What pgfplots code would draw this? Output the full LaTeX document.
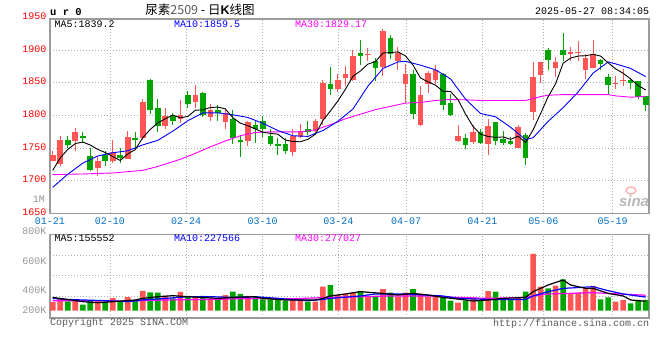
\documentclass[border=0pt]{standalone}
\usepackage{pgfplots}
\pgfplotsset{compat=1.18}
\usepackage{pgfplotstable}
\usepackage{fontspec}
\setmainfont{Liberation Mono}
\newfontfamily\cjk{Noto Sans CJK SC}
\newfontfamily\sansf{Liberation Sans}
\newcommand\tf{\fontsize{10bp}{12bp}\selectfont}
\definecolor{upred}{RGB}{255,85,85}
\definecolor{dngreen}{RGB}{0,165,0}
\definecolor{tickred}{RGB}{255,0,0}
\definecolor{dateblue}{RGB}{0,110,200}
\definecolor{bordergray}{RGB}{155,155,155}
\definecolor{gridgray}{RGB}{175,175,175}
\definecolor{labgray}{RGB}{150,150,150}
\definecolor{txtgray}{RGB}{90,90,90}
\definecolor{mablue}{RGB}{0,0,255}
\definecolor{mamag}{RGB}{255,0,255}

% rising candles: index open high low close
\pgfplotstableread{
i o h l c
0 1731 1746 1730 1740
1 1725 1769 1722 1763
3 1761 1781 1745 1774
6 1719 1738 1707 1730
8 1730 1763 1728 1744
10 1734 1776 1733 1767
12 1765 1825 1763 1821
15 1784 1811 1779 1799
17 1795 1823 1789 1800.5
19 1821 1846 1811 1832
21 1797.5 1818 1792 1809
23 1790 1809 1779 1804
26 1761 1792 1753 1790
32 1744 1779 1738 1768
33 1767 1787 1765 1777
35 1777 1795 1771 1792
36 1794 1854 1786 1850
38 1841 1864 1836 1854
39 1858 1875.5 1845 1864
40 1855 1899.5 1853 1891
42 1892 1904 1883 1893.5
44 1874 1932 1860 1930
46 1883 1905 1870 1896
47 1847.5 1879 1819 1863
49 1785 1845 1784 1831
50 1848.5 1868 1835 1865
51 1854 1878 1847.5 1870
54 1761.7 1785 1759.7 1768.4
56 1759.7 1786 1756.6 1775
58 1756.6 1795.4 1739.3 1783.2
62 1750.5 1785.2 1749.5 1782.2
64 1805.6 1881.6 1792.4 1858.7
65 1861.7 1882 1850 1881.6
67 1873 1889.3 1858.7 1882.2
69 1893.4 1905 1884 1897.5
70 1895 1913.8 1883.2 1897
71 1870.4 1893.4 1855.1 1888.3
72 1873 1916.3 1872 1893.4
75 1849 1860.2 1841.3 1850.5
76 1853.1 1871.9 1844.9 1854.6
}\uptab

% falling candles
\pgfplotstableread{
i o h l c
2 1763 1769 1750 1755
4 1769 1775 1758 1765
5 1738 1750 1715 1717
7 1739 1745 1722 1730
9 1740 1750 1728 1735
11 1766 1775 1748 1763
13 1855 1856 1803 1808
14 1812 1826 1775 1784
16 1799 1804 1786 1791
18 1832 1838 1812 1818
20 1835 1836 1797.5 1801.5
22 1809 1816 1792 1804
24 1795 1809 1757 1765
25 1763 1770 1736 1759
27 1786 1792 1758 1779
28 1791 1799 1767 1779
29 1768 1779 1753 1756
30 1757 1766 1739 1753
31 1757 1766 1741 1745
34 1780 1792 1770 1775
37 1847.5 1874 1832 1841
41 1896 1915 1877 1891
43 1884 1888 1853 1873
45 1919 1923 1886 1894
48 1863 1869 1795 1803
52 1864 1865 1809 1816
53 1819.4 1832.2 1799 1801.5
55 1765.8 1772 1748 1754.6
57 1775 1778.6 1756.6 1758.2
59 1789.8 1790.5 1755.6 1761.7
60 1763.3 1777 1755.6 1757.7
61 1760.7 1766.8 1754.6 1756.6
63 1770.9 1773.5 1724 1735.2
66 1901 1903.6 1870.4 1885.7
68 1899.5 1926.5 1883.2 1892.4
73 1885.7 1886.5 1868.9 1878.1
74 1858.7 1863.8 1833.2 1846.4
77 1853.6 1855.1 1841.3 1850
78 1852.6 1853 1824.5 1828.1
79 1829.6 1830 1806.6 1815.8
}\dntab

\pgfplotstableread{
i m
0 1716
1 1735
2 1748
3 1757
4 1759.4
5 1754.8
6 1748.2
7 1743.2
8 1737.2
9 1731.2
10 1741.2
11 1747.8
12 1766
13 1778.8
14 1788.6
15 1795
16 1800.6
17 1796.5
18 1798.5
19 1808.1
20 1808.6
21 1812.2
22 1812.9
23 1810.1
24 1796.7
25 1788.2
26 1784.4
27 1779.4
28 1774.4
29 1772.6
30 1771.4
31 1762.4
32 1760.2
33 1759.8
34 1763.6
35 1771.4
36 1792.4
37 1807
38 1822.4
39 1840.2
40 1860
41 1868.2
42 1878.7
43 1882.5
44 1895.7
45 1896.3
46 1897.3
47 1891.2
48 1877.2
49 1857.4
50 1851.6
51 1846.4
52 1837
53 1836.7
54 1824.2
55 1802.1
56 1783.1
57 1771.5
58 1767.9
59 1766.5
60 1767.2
61 1763.5
62 1768.3
63 1758.7
64 1778.1
65 1802.9
66 1828.7
67 1848.7
68 1880.1
69 1887.9
70 1891
71 1891.5
72 1893.7
73 1890.9
74 1880.6
75 1871.3
76 1864.6
77 1855.9
78 1845.9
79 1839.2
}\mafive

\pgfplotstableread{
i m
0 1690
2 1710
4 1727
6 1738
8 1743
10 1746
12 1755
14 1762
16 1776
18 1792
20 1804
22 1804
24 1801
26 1797
28 1788
30 1777
32 1769
34 1768
36 1777
38 1791
40 1810
42 1845
44 1872
46 1882
47 1883
49 1877
51 1870
53 1856
55 1825
57 1803
59 1798
61 1782
63 1763
64 1766
66 1791
68 1812
70 1836
72 1865
74 1882
75 1879
77 1872
79 1859.5
}\maten

\pgfplotstableread{
i m
0 1709.5
4 1710.5
8 1712
12 1716
14 1722
17 1733
19 1742
21 1752
23 1761
25 1769
27 1774
29 1775
31 1775
33 1775
35 1778
37 1786
39 1795
41 1802
43 1809
45 1814
47 1819
49 1820
51 1823
53 1824.5
55 1824
57 1823
59 1823
61 1823
63 1823
64 1826
65 1829
66 1831
68 1832
70 1832
72 1832
74 1832
75 1830
77 1828
79 1829.2
}\mathirty

% volume (thousand lots)
\pgfplotstableread{
i v
0 140
1 206
3 165
6 173
8 206
10 223
12 327
15 243
17 309
19 226
21 203
23 259
26 243
32 186
33 186
35 149
36 396
38 259
39 276
40 297
42 243
44 358
46 231
47 297
49 276
50 231
51 259
54 132
56 219
58 325
62 219
64 936
65 396
67 413
69 285
70 297
71 368
72 408
75 149
76 177
}\volup

\pgfplotstableread{
i v
2 152
4 102
5 175
7 145
9 145
11 170
13 302
14 297
16 203
18 243
20 243
22 186
24 314
25 276
27 231
28 186
29 186
30 203
31 165
34 149
37 424
41 325
43 243
45 297
48 358
52 219
53 165
55 165
57 177
59 314
60 203
61 177
63 314
66 368
68 516
73 186
74 219
77 120
78 177
79 177
}\voldn

\pgfplotstableread{
i m
0 219
4 149
6 132
8 149
11 177
12 203
14 231
16 248
18 231
20 219
22 203
24 219
27 231
28 203
31 177
33 177
35 177
36 203
37 243
39 276
41 314
44 285
46 259
48 285
50 259
52 219
55 177
56 160
58 177
60 203
63 219
64 314
66 424
68 507
69 424
71 368
72 368
74 285
76 243
77 177
79 155
}\vmafive

\pgfplotstableread{
i m
0 203
2 186
4 177
7 165
10 149
12 177
15 203
18 231
21 231
24 219
27 231
30 203
34 165
36 186
37 203
41 243
43 276
47 276
52 243
54 203
58 186
63 186
64 243
66 314
68 368
72 396
74 330
76 276
79 225
}\vmaten

\pgfplotstableread{
i m
0 165
10 160
15 177
21 186
27 203
32 198
37 219
41 231
45 243
50 243
54 219
58 203
63 219
65 260
66 276
72 297
74 285
79 255
}\vmathirty

\begin{document}
\begin{tikzpicture}
\useasboundingbox (0,0) rectangle (660bp,360bp);
\pgfplotsset{
  kbase/.style={scale only axis, anchor=south west, width=599bp,
    xmin=-0.36, xmax=79.44,
    axis line style={draw=bordergray, line width=1.3bp},
    tick style={draw=none}, major tick length=0pt,
    grid=major, grid style={draw=gridgray, line width=0.8bp, dash pattern=on 1bp off 2bp},
    xtick={-0.36,7.63,17.76,27.98,38.05,47.07,57.23,65.36,74.6}},
  wick/.style={draw=none, mark=none, forget plot,
    error bars/.cd, y dir=plus, y explicit, error mark=none,
    error bar style={draw=#1, line width=1bp, line cap=butt, solid}},
  body/.style={draw=none, mark=none, forget plot,
    error bars/.cd, y dir=plus, y explicit, error mark=none,
    error bar style={draw=#1, line width=5.6bp, line cap=butt, solid}},
}
\tikzset{t/.style={inner sep=0pt, font=\tf}}

\begin{axis}[kbase, at={(50bp,146.5bp)}, height=194.5bp,
  ymin=1650, ymax=1947.7,
  ytick={1650,1700,1750,1800,1850,1900},
  yticklabels={1650,1700,1750,1800,1850,1900},
  yticklabel style={font=\tf, text=tickred, yshift=1.2bp},
  xticklabels={01-21,02-10,02-24,03-10,03-24,04-07,04-21,05-06,05-19},
  xticklabel style={font=\tf, text=dateblue, yshift=-1.2bp}]
\addplot[wick=upred] table[x=i, y=l, y error plus expr=\thisrow{h}-\thisrow{l}] {\uptab};
\addplot[body=upred] table[x=i, y=o, y error plus expr=\thisrow{c}-\thisrow{o}] {\uptab};
\addplot[wick=dngreen] table[x=i, y=l, y error plus expr=\thisrow{h}-\thisrow{l}] {\dntab};
\addplot[body=dngreen] table[x=i, y=c, y error plus expr=\thisrow{o}-\thisrow{c}] {\dntab};
\addplot[mamag, line width=0.9bp, mark=none] table[x=i, y=m] {\mathirty};
\addplot[mablue, line width=0.9bp, mark=none] table[x=i, y=m] {\maten};
\addplot[black, line width=0.9bp, mark=none] table[x=i, y=m] {\mafive};
\end{axis}

\begin{axis}[kbase, at={(50bp,42bp)}, height=83.3bp,
  ymin=-120.5, ymax=1254,
  ytick={242.6,577.5,907.5}, yticklabels={}, xticklabels={}]
\addplot[ybar, bar width=5.6bp, bar shift=0pt, fill=upred, draw=none] table[x=i, y=v] {\volup};
\addplot[ybar, bar width=5.6bp, bar shift=0pt, fill=dngreen, draw=none] table[x=i, y=v] {\voldn};
\addplot[mamag, line width=1.2bp, mark=none] table[x=i, y=m] {\vmathirty};
\addplot[mablue, line width=1.2bp, mark=none] table[x=i, y=m] {\vmaten};
\addplot[black, line width=1.2bp, mark=none] table[x=i, y=m] {\vmafive};
\end{axis}

% header
\node[t, anchor=west, font=\fontsize{10.5bp}{12bp}\selectfont\bfseries] at (50bp,348.3bp) {u r 0};
\node[t] at (200bp,350.3bp) {\cjk\fontsize{12.5bp}{14bp}\selectfont 尿素\textcolor{txtgray}{2509} - 日{\sansf\bfseries K}线图};
\node[t, anchor=east] at (649.3bp,348.3bp) {2025-05-27 08:34:05};
\node[t, anchor=east, text=tickred] at (46.7bp,343.5bp) {1950};
\node[t, anchor=east, text=labgray] at (45bp,161bp) {1M};
% legends
\node[t, anchor=west] at (54.3bp,336bp) {MA5:1839.2};
\node[t, anchor=west, text=mablue] at (174bp,336bp) {MA10:1859.5};
\node[t, anchor=west, text=mamag] at (295bp,336bp) {MA30:1829.17};
\node[t, anchor=west] at (54.3bp,121.7bp) {MA5:155552};
\node[t, anchor=west, text=mablue] at (174bp,121.7bp) {MA10:227566};
\node[t, anchor=west, text=mamag] at (295bp,121.7bp) {MA30:277027};
% volume labels
\node[t, anchor=east, text=labgray] at (46.7bp,128.3bp) {800K};
\node[t, anchor=east, text=labgray] at (46.7bp,98.3bp) {600K};
\node[t, anchor=east, text=labgray] at (46.7bp,69.3bp) {400K};
\node[t, anchor=east, text=labgray] at (46.7bp,50bp) {200K};
% footer
\node[t, anchor=west, text=txtgray] at (50bp,36.7bp) {Copyright 2025 SINA.COM};
\node[t, anchor=east, text=txtgray] at (649.3bp,36bp) {http://finance.sina.com.cn};
% watermark
\node[inner sep=0pt, text=black!28] at (634bp,159bp) {\sansf\bfseries\itshape\fontsize{15bp}{15bp}\selectfont sina};
\draw[red!30, line width=1.4bp] (631bp,169.5bp) ellipse (5bp and 3.5bp);
\end{tikzpicture}
\end{document}
